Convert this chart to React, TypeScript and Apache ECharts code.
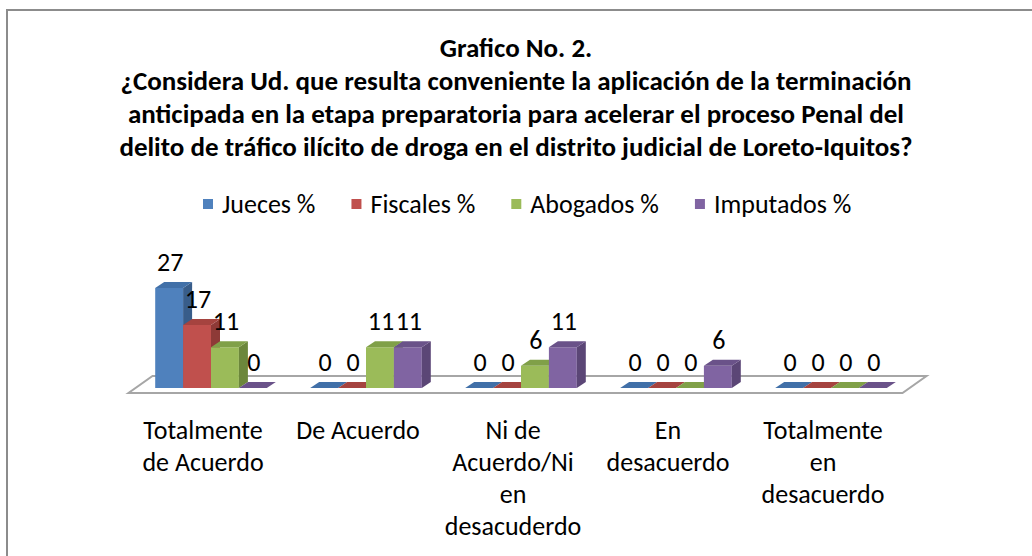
import React, { useEffect, useRef } from "react";
import * as echarts from "echarts";

const categories = [
  "Totalmente\nde Acuerdo",
  "De Acuerdo",
  "Ni de\nAcuerdo/Ni\nen\ndesacuderdo",
  "En\ndesacuerdo",
  "Totalmente\nen\ndesacuerdo",
];
const seriesNames = ["Jueces %", "Fiscales %", "Abogados %", "Imputados %"];
const jueces = [27, 0, 0, 0, 0];
const fiscales = [17, 0, 0, 0, 0];
const abogados = [11, 11, 6, 0, 0];
const imputados = [0, 11, 11, 6, 0];

const titleText =
  "Grafico No. 2.\n¿Considera Ud. que resulta conveniente la aplicación de la terminación\nanticipada en la etapa preparatoria para acelerar el proceso Penal del\ndelito de tráfico ilícito de droga en el distrito judicial de Loreto-Iquitos?";

const FONT = "Carlito, Calibri, Lato, sans-serif";
const palette = [
  { front: "#4F81BD", top: "#4170A8", side: "#385D8A" },
  { front: "#C0504D", top: "#A5433F", side: "#8E3A37" },
  { front: "#9BBB59", top: "#80A048", side: "#6C873B" },
  { front: "#8064A2", top: "#6A5289", side: "#5B4676" },
];
const DX = 9;
const DY = -6;
const BAR_RATIO = 0.18;

function makeRenderItem(si: number) {
  return (params: any, api: any) => {
    const cat = api.value(0);
    const val = api.value(1);
    const base = api.coord([cat, 0]);
    const top = api.coord([cat, val]);
    const band = api.size([1, 0])[0];
    const bw = band * BAR_RATIO;
    const x0 = base[0] - 2 * bw + si * bw;
    const x1 = x0 + bw;
    const y0 = base[1];
    const y1 = top[1];
    const c = palette[si];
    const children: any[] = [];
    if (val > 0) {
      children.push({
        type: "rect",
        shape: { x: x0, y: y1, width: bw, height: y0 - y1 },
        style: { fill: c.front },
      });
      children.push({
        type: "polygon",
        shape: { points: [[x1, y0], [x1 + DX, y0 + DY], [x1 + DX, y1 + DY], [x1, y1]] },
        style: { fill: c.side },
      });
    }
    children.push({
      type: "polygon",
      shape: { points: [[x0, y1], [x1, y1], [x1 + DX, y1 + DY], [x0 + DX, y1 + DY]] },
      style: { fill: c.top },
    });
    children.push({
      type: "text",
      style: {
        text: String(val),
        x: (x0 + x1) / 2 + 1,
        y: y1 - 26,
        align: "center",
        verticalAlign: "middle",
        fontSize: 26,
        fontFamily: FONT,
        fill: "#000",
      },
    });
    return { type: "group", children };
  };
}

function floorRender(params: any, api: any) {
  const cs = params.coordSys;
  const baseY = cs.y + cs.height;
  const fl = cs.x - 5;
  const fr = cs.x + cs.width - 6;
  const fy = baseY + 5;
  const by = baseY - 12;
  const sh = 24;
  return {
    type: "polygon",
    shape: { points: [[fl, fy], [fr, fy], [fr + sh, by], [fl + sh, by]] },
    style: { fill: "#ffffff", stroke: "#A6A6A6", lineWidth: 2 },
  };
}

export default function App() {
  const ref = useRef<HTMLDivElement>(null);
  useEffect(() => {
    if (!ref.current) return;
    const chart = echarts.init(ref.current, null, { renderer: "svg" });
    const lists = [jueces, fiscales, abogados, imputados];
    const series: any[] = [
      {
        type: "custom",
        name: "floor",
        silent: true,
        z: 1,
        renderItem: floorRender,
        data: [[0, 0]],
        encode: { x: 0, y: 1 },
      },
    ];
    lists.forEach((arr, si) => {
      series.push({
        type: "custom",
        name: seriesNames[si],
        z: 2,
        itemStyle: { color: palette[si].front },
        renderItem: makeRenderItem(si),
        data: arr.map((v, i) => [i, v]),
        encode: { x: 0, y: 1 },
      });
    });
    chart.setOption({
      animation: false,
      backgroundColor: "#ffffff",
      textStyle: { fontFamily: FONT },
      title: {
        text: titleText,
        left: "center",
        top: 26,
        textStyle: {
          fontFamily: FONT,
          fontWeight: "bold",
          fontSize: 27,
          lineHeight: 33,
          color: "#000",
        },
      },
      legend: {
        data: seriesNames,
        left: 198,
        top: 186,
        icon: "rect",
        itemWidth: 10,
        itemHeight: 10,
        itemGap: 36,
        textStyle: {
          fontFamily: FONT,
          fontSize: 26,
          lineHeight: 26,
          color: "#000",
          padding: [0, 0, 0, 4],
        },
      },
      grid: { left: 133.5, right: 123.5, top: 277, bottom: 168 },
      xAxis: {
        type: "category",
        data: categories,
        axisLine: { show: false },
        axisTick: { show: false },
        axisLabel: {
          interval: 0,
          margin: 26,
          fontFamily: FONT,
          fontSize: 26,
          lineHeight: 32,
          color: "#000",
          align: "center",
          padding: [0, 16, 0, 0],
        },
      },
      yAxis: {
        type: "value",
        min: 0,
        max: 30,
        show: false,
        splitLine: { show: false },
      },
      graphic: [
        {
          type: "rect",
          silent: true,
          z: -10,
          shape: { x: 7, y: 10, width: 1100, height: 600 },
          style: { fill: "none", stroke: "#8C8C8C", lineWidth: 2 },
        },
      ],
      series,
    });
    return () => chart.dispose();
  }, []);
  return (
    <div
      ref={ref}
      style={{ position: "absolute", left: 0, top: 0, width: 1032, height: 556 }}
    />
  );
}
